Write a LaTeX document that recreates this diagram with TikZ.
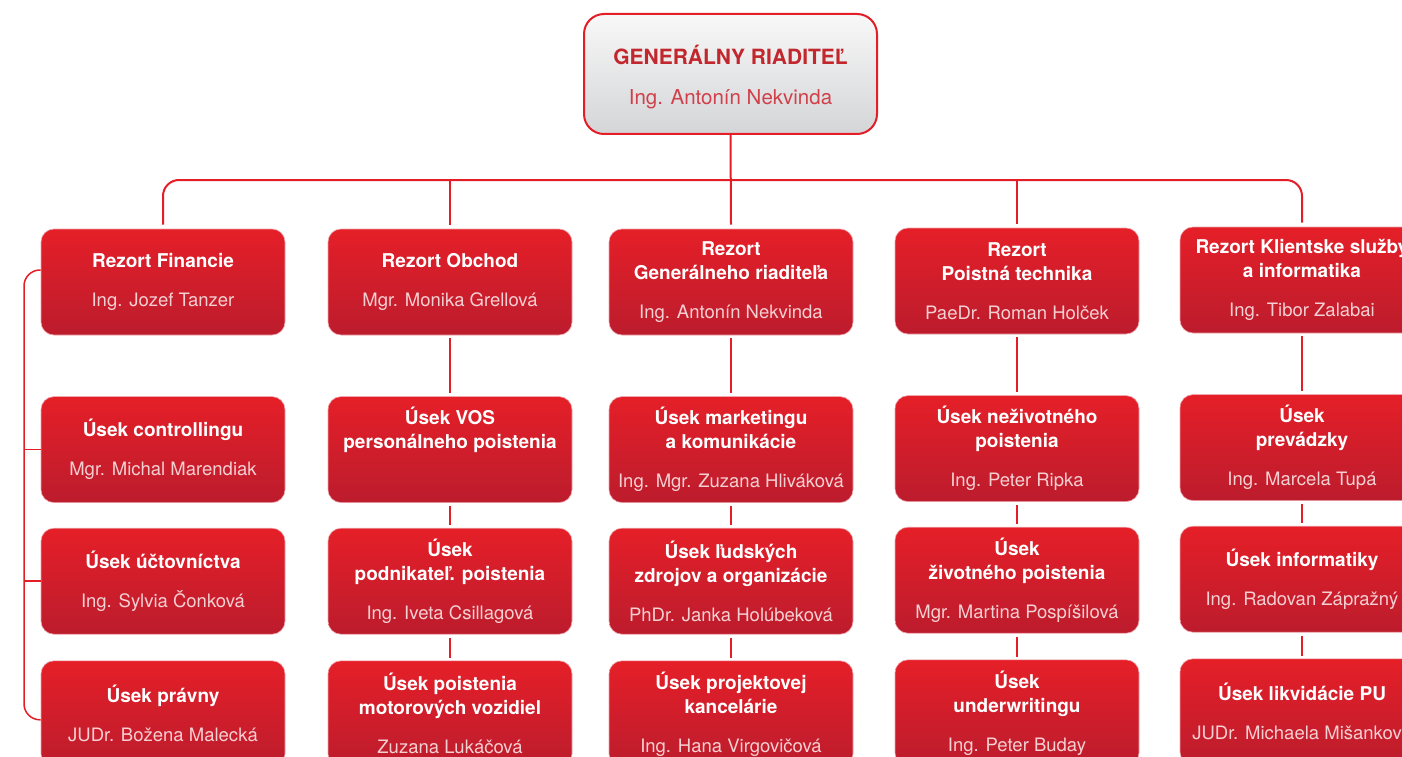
\documentclass[tikz,border=0pt]{standalone}
\usepackage{fontspec}
\setmainfont{TeX Gyre Heros}
\usetikzlibrary{calc,positioning}

\definecolor{orgred}{HTML}{E31E27}
\definecolor{boxtop}{HTML}{E51F28}
\definecolor{boxbot}{HTML}{BC1C2D}
\definecolor{boxrim}{HTML}{EDA3A8}
\definecolor{namecol}{HTML}{F5D0D3}
\definecolor{chieftxt}{HTML}{C1272D}
\definecolor{chiefname}{HTML}{D0404A}
\definecolor{chieftop}{HTML}{F8F8F8}
\definecolor{chiefbot}{HTML}{D4D5D7}

\newcommand\nm[1]{{\fontsize{18.5}{24}\selectfont\mdseries\color{namecol}#1}}

\tikzset{
  unit/.style={rounded corners=13pt, top color=boxtop, bottom color=boxbot,
    draw=boxrim, line width=0.6pt, minimum width=244pt, minimum height=106pt,
    inner sep=0pt, align=center, text=white,
    font=\fontsize{19}{24}\selectfont\bfseries},
  chief/.style={rounded corners=20pt, top color=chieftop, bottom color=chiefbot,
    draw=orgred, line width=2pt, minimum width=293pt, minimum height=120pt,
    inner sep=0pt, align=center, text=chieftxt,
    font=\fontsize{21}{24}\selectfont\bfseries},
  link/.style={draw=orgred, line width=2pt},
  rail/.style={draw=orgred, line width=1.5pt}
}

\begin{document}
\begin{tikzpicture}[x=1pt,y=-1pt]
  \useasboundingbox (0,0) rectangle (1402,757);
  \clip (0,0) rectangle (1402,757);

  \node[chief] (gen) at (730.5,74) {\rule{0pt}{26pt}GENERÁLNY RIADITEĽ\\[16pt]{\fontsize{20.5}{24}\selectfont\mdseries\color{chiefname}Ing. Antonín Nekvinda}};

  \node[unit] (fin1) at (163,282) {Rezort Financie\\[15pt]\nm{Ing. Jozef Tanzer}};
  \node[unit] (obc1) at (450,282) {Rezort Obchod\\[15pt]\nm{Mgr. Monika Grellová}};
  \node[unit] (gri1) at (731,282) {Rezort\\Generálneho riaditeľa\\[15pt]\nm{Ing. Antonín Nekvinda}};
  \node[unit] (poi1) at (1017,281) {Rezort\\Poistná technika\\[15pt]\nm{PaeDr. Roman Holček}};
  \node[unit] (kli1) at (1302,280) {Rezort Klientske služby\\a informatika\\[15pt]\nm{Ing. Tibor Zalabai}};

  \node[unit, below=61pt of fin1] (fin2) {Úsek controllingu\\[15pt]\nm{Mgr. Michal Marendiak}};
  \node[unit, below=25pt of fin2] (fin3) {Úsek účtovníctva\\[15pt]\nm{Ing. Sylvia Čonková}};
  \node[unit, below=26pt of fin3] (fin4) {Úsek právny\\[15pt]\nm{JUDr. Božena Malecká}};

  \node[unit, below=61pt of obc1] (obc2) {Úsek VOS\\personálneho poistenia\\[15pt]\nm{\phantom{Ig}}};
  \node[unit, below=25pt of obc2] (obc3) {Úsek\\podnikateľ. poistenia\\[15pt]\nm{Ing. Iveta Csillagová}};
  \node[unit, below=26pt of obc3] (obc4) {Úsek poistenia\\motorových vozidiel\\[15pt]\nm{Zuzana Lukáčová}};

  \node[unit, below=61pt of gri1] (gri2) {Úsek marketingu\\a komunikácie\\[15pt]\nm{Ing. Mgr. Zuzana Hliváková}};
  \node[unit, below=25pt of gri2] (gri3) {Úsek ľudských\\zdrojov a organizácie\\[15pt]\nm{PhDr. Janka Holúbeková}};
  \node[unit, below=26pt of gri3] (gri4) {Úsek projektovej\\kancelárie\\[15pt]\nm{Ing. Hana Virgovičová}};

  \node[unit, below=61pt of poi1] (poi2) {Úsek neživotného\\poistenia\\[15pt]\nm{Ing. Peter Ripka}};
  \node[unit, below=25pt of poi2] (poi3) {Úsek\\životného poistenia\\[15pt]\nm{Mgr. Martina Pospíšilová}};
  \node[unit, below=26pt of poi3] (poi4) {Úsek\\underwritingu\\[15pt]\nm{Ing. Peter Buday}};

  \node[unit, below=61pt of kli1] (kli2) {Úsek\\prevádzky\\[15pt]\nm{Ing. Marcela Tupá}};
  \node[unit, below=25pt of kli2] (kli3) {Úsek informatiky\\[15pt]\nm{Ing. Radovan Zápražný}};
  \node[unit, below=26pt of kli3] (kli4) {Úsek likvidácie PU\\[15pt]\nm{JUDr. Michaela Mišanková}};

  \coordinate (bus) at (731,180);
  \coordinate (rail) at (24,500);

  \draw[link, rounded corners=16pt] ([yshift=4pt]fin1.north) |- (bus) -| ([yshift=4pt]kli1.north);
  \draw[link] (gen.south) -- ([yshift=4pt]gri1.north);
  \foreach \c in {obc1,poi1} {\draw[link] ([yshift=4pt]\c.north) -- (\c.north |- bus);};

  \foreach \c in {obc,gri,poi,kli} {
    \foreach \r/\s in {1/2,2/3,3/4} {
      \draw[link, shorten <=3pt, shorten >=3pt] (\c\r.south) -- (\c\s.north);
    };
  };

  \draw[rail, rounded corners=16pt] ([yshift=12pt]fin1.west) -| (rail) |- ([yshift=-6pt]fin4.west);
  \foreach \r in {2,3} {\draw[rail] (fin\r.west) -- (fin\r.west -| rail);};
\end{tikzpicture}
\end{document}
